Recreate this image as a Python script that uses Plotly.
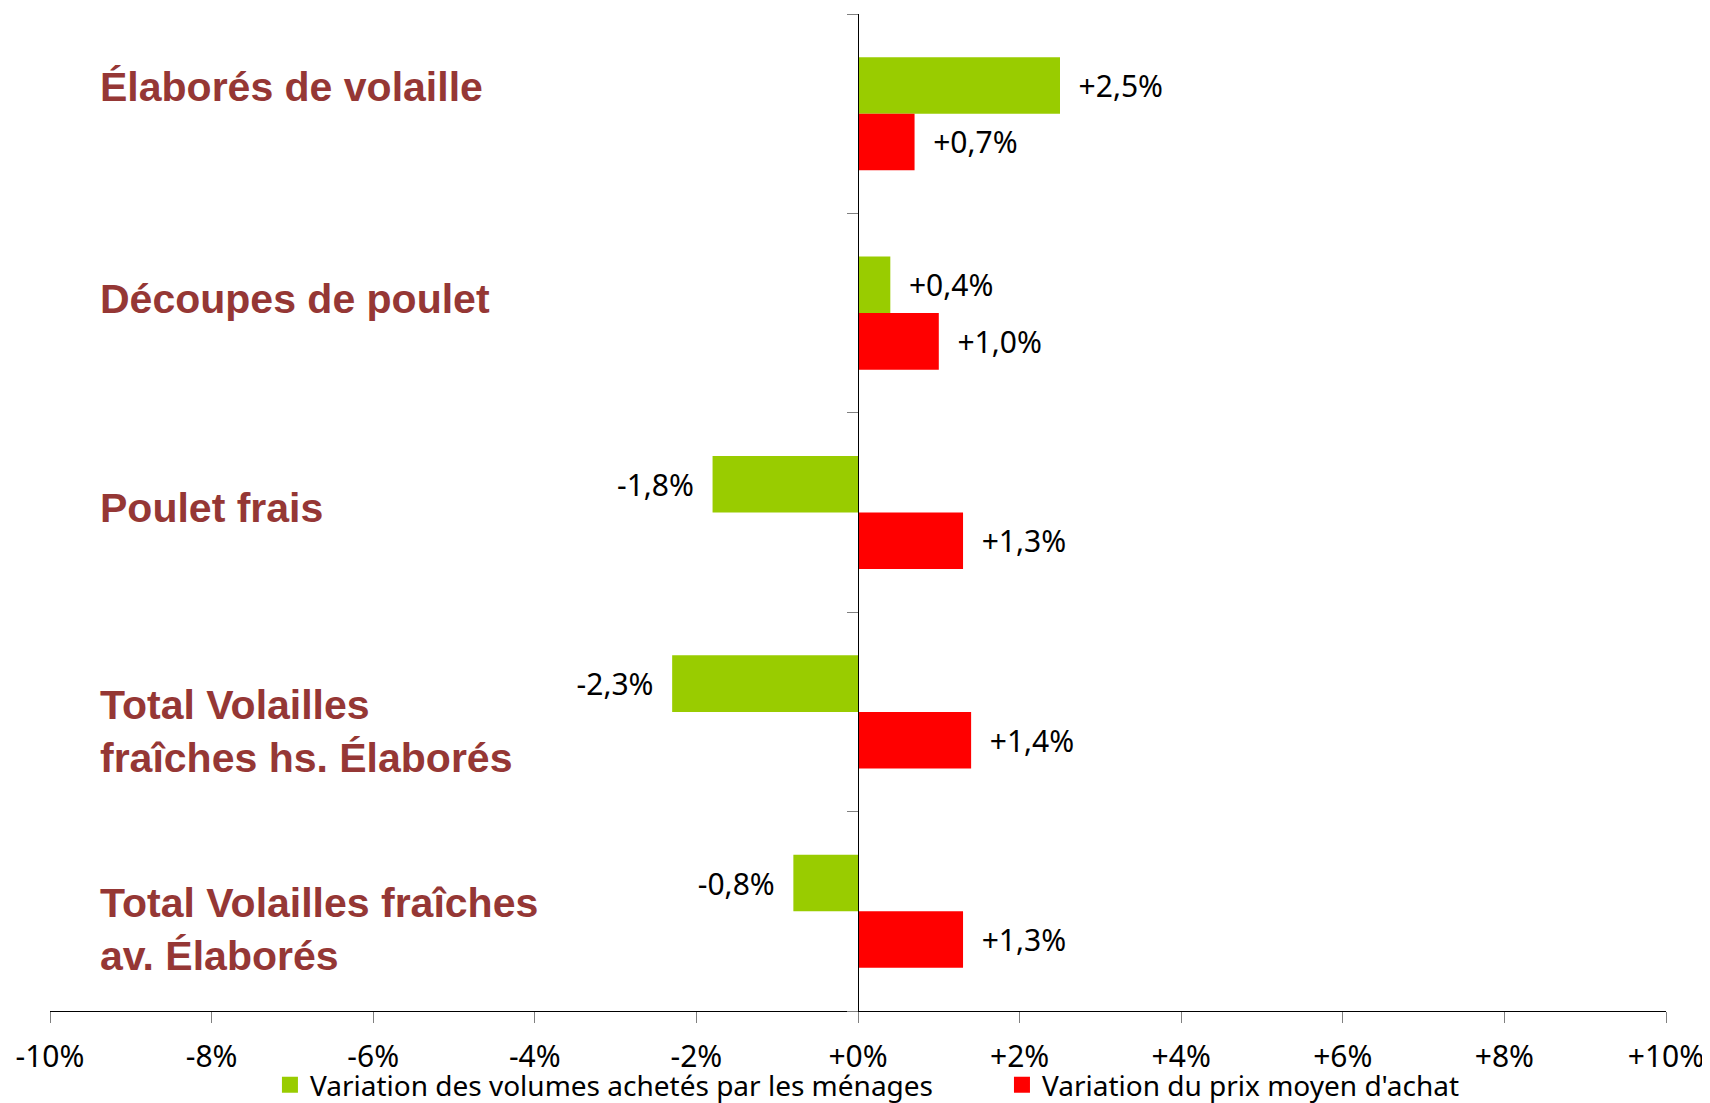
import plotly.graph_objects as go

categories = [
    "Élaborés de volaille",
    "Découpes de poulet",
    "Poulet frais",
    "Total Volailles<br>fraîches hs. Élaborés",
    "Total Volailles fraîches<br>av. Élaborés",
]
volumes = [2.5, 0.4, -1.8, -2.3, -0.8]
prix = [0.7, 1.0, 1.3, 1.4, 1.3]
series_names = ["Variation des volumes achetés par les ménages", "Variation du prix moyen d'achat"]
tick_values = [-10, -8, -6, -4, -2, 0, 2, 4, 6, 8, 10]
tick_labels = ["-10%", "-8%", "-6%", "-4%", "-2%", "+0%", "+2%", "+4%", "+6%", "+8%", "+10%"]

GREEN = "#99CC00"
RED = "#FF0000"
LABEL_COLOR = "#953735"
NB = "\u00a0\u00a0"


def fmt(v):
    s = f"{v:+.1f}%".replace(".", ",")
    return NB + s if v >= 0 else s + NB


cat_ids = list(range(len(categories)))

fig = go.Figure()
legend_ids = ["legend", "legend2"]
for name, vals, color, lg in [(series_names[0], volumes, GREEN, legend_ids[0]),
                              (series_names[1], prix, RED, legend_ids[1])]:
    fig.add_trace(go.Bar(
        y=cat_ids, x=vals, orientation="h", name=name, showlegend=False,
        marker=dict(color=color, line=dict(width=0)),
        text=[fmt(v) for v in vals], textposition="outside",
        textfont=dict(family="Noto Sans", size=30, color="black"),
        constraintext="none", cliponaxis=False,
    ))
    # legend-only entry with a larger square swatch
    fig.add_trace(go.Scatter(
        x=[None], y=[None], mode="markers", name=name, legend=lg,
        marker=dict(symbol="square", size=16, color=color),
        hoverinfo="skip",
    ))

label_shifts = [27, 14, 5, -20, -18]
for i, (cat, sh) in enumerate(zip(categories, label_shifts)):
    fig.add_annotation(
        x=0.0297, xref="paper", y=i, yref="y", yshift=sh,
        text=cat, showarrow=False, xanchor="left", yanchor="middle", align="left",
        font=dict(family="Liberation Sans", size=41, color=LABEL_COLOR, weight="bold"),
    )

legend_font = dict(family="Noto Sans", size=28, color="black")
fig.update_layout(
    width=1702, height=1095,
    margin=dict(l=42, r=44, t=6, b=92),
    plot_bgcolor="white", paper_bgcolor="white",
    barmode="group", bargap=0.433, bargroupgap=0,
    showlegend=True,
    legend=dict(
        orientation="h", xref="container", yref="container",
        x=0.1539, xanchor="left", y=0.0164, yanchor="middle",
        font=legend_font, bgcolor="rgba(0,0,0,0)",
    ),
    legend2=dict(
        orientation="h", xref="container", yref="container",
        x=0.584, xanchor="left", y=0.0164, yanchor="middle",
        font=legend_font, bgcolor="rgba(0,0,0,0)",
    ),
    xaxis=dict(
        range=[-10, 10], tickvals=tick_values, ticktext=tick_labels,
        showline=True, linecolor="black", linewidth=1,
        ticks="outside", ticklen=11, tickcolor="#808080", tickwidth=1,
        showgrid=False, zeroline=False, automargin=False,
        tickfont=dict(family="Noto Sans", size=30, color="black"),
        ticklabelstandoff=8,
    ),
    yaxis=dict(
        type="linear", range=[4.5, -0.5],
        anchor="free", position=0.5, automargin=False,
        showline=True, linecolor="black", linewidth=1,
        ticks="outside", ticklen=11, tickcolor="#808080", tickwidth=1,
        tickvals=[-0.5, 0.5, 1.5, 2.5, 3.5, 4.5],
        showticklabels=False, showgrid=False, zeroline=False,
    ),
)

fig.write_html("out.html")
